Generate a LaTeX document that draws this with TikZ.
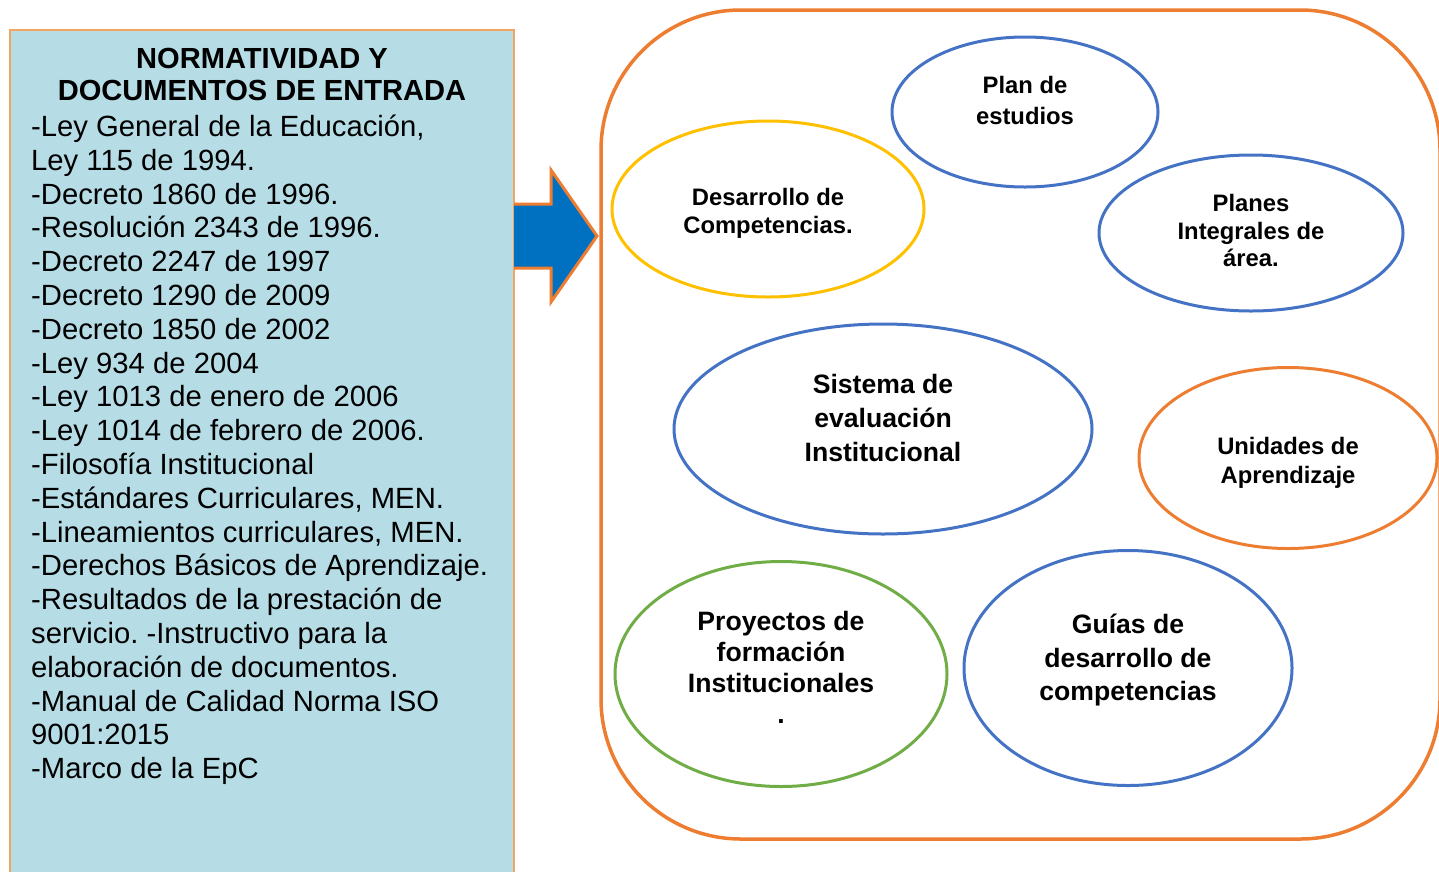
\documentclass[tikz,border=0pt]{standalone}
\usepackage{fontspec}
\setmainfont{Liberation Sans}
\frenchspacing
\usetikzlibrary{shapes.geometric}
\definecolor{orng}{HTML}{ED7D31}
\definecolor{lorng}{HTML}{F4A460}
\definecolor{blu}{HTML}{4472C4}
\definecolor{yel}{HTML}{FFC000}
\definecolor{grn}{HTML}{70AD47}
\definecolor{arrowblue}{HTML}{0070C0}
\definecolor{boxblue}{HTML}{B6DCE6}
\begin{document}
\begin{tikzpicture}[x=1pt,y=-1pt,
  ell/.style={ellipse, draw, line width=3pt, inner sep=0pt},
  small/.style={align=center, inner sep=0pt, font=\fontsize{23.8}{#1}\selectfont\bfseries\frenchspacing},
  big/.style={align=center, inner sep=0pt, font=\fontsize{26.6}{#1}\selectfont\bfseries\frenchspacing},
  body/.style={anchor=base west, inner sep=0pt, font=\fontsize{29.25}{34}\selectfont\frenchspacing},
  head/.style={anchor=base, inner sep=0pt, font=\fontsize{29.1}{32}\selectfont\bfseries}]
\useasboundingbox (0,0) rectangle (1439,871);
% left box
\path[fill=boxblue, draw=lorng, line width=1.5pt] (10,30) rectangle (514,890);
\node[head] (h1) at (262,68.4) {NORMATIVIDAD Y};
\node[head] (h2) at (262,100.4) {DOCUMENTOS DE ENTRADA};
\foreach \t [count=\i from 0] in {
 {-Ley General de la Educación,},
 {Ley 115 de 1994.},
 {-Decreto 1860 de 1996.},
 {-Resolución 2343 de 1996.},
 {-Decreto 2247 de 1997},
 {-Decreto 1290 de 2009},
 {-Decreto 1850 de 2002},
 {-Ley 934 de 2004},
 {-Ley 1013 de enero de 2006},
 {-Ley 1014 de febrero de 2006.},
 {-Filosofía Institucional},
 {-Estándares Curriculares, MEN.},
 {-Lineamientos curriculares, MEN.},
 {-Derechos Básicos de Aprendizaje.},
 {-Resultados de la prestación de},
 {servicio. -Instructivo para la},
 {elaboración de documentos.},
 {-Manual de Calidad Norma ISO},
 {9001:2015},
 {-Marco de la EpC}}
 { \node[body] (l\i) at (31,136.4+33.8*\i) {\t}; }
% arrow
\fill[arrowblue] (514,204) -- (551,204) -- (551,170) -- (597,236) -- (551,302) -- (551,268) -- (514,268) -- cycle;
\draw[orng, line width=3pt, line join=miter] (514,204) -- (551,204) -- (551,170) -- (597,236) -- (551,302) -- (551,268) -- (514,268);
% right container
\draw[orng, line width=3.5pt, rounded corners=140pt] (601,10) rectangle (1440,839);
% ellipses
\node[ell, draw=blu, minimum width=266pt, minimum height=150pt] (plan) at (1025,112) {};
\node[ell, draw=yel, minimum width=312pt, minimum height=176pt] (desa) at (768,209) {};
\node[ell, draw=blu, minimum width=304pt, minimum height=156pt] (planes) at (1251,233) {};
\node[ell, draw=blu, minimum width=418pt, minimum height=210pt] (sist) at (883,429) {};
\node[ell, draw=orng, minimum width=298pt, minimum height=181pt] (unid) at (1288,458) {};
\node[ell, draw=grn, minimum width=332pt, minimum height=225pt] (proy) at (781,674) {};
\node[ell, draw=blu, minimum width=328pt, minimum height=235pt] (guias) at (1128,668) {};
% labels
\node[small=31] (tplan) at (1025,100.5) {Plan de\\estudios};
\node[small=28] (tdesa) at (768,213) {Desarrollo de\\Competencias.};
\node[small=27.5] (tplanes) at (1251,230.5) {Planes\\Integrales de\\área.};
\node[big=34] (tsist) at (883,417.5) {Sistema de\\evaluación\\Institucional};
\node[small=29] (tunid) at (1288,462.5) {Unidades de\\Aprendizaje};
\node[big=31] (tproy) at (781,667.5) {Proyectos de\\formación\\Institucionales\\.};
\node[big=33.5] (tguias) at (1128,660) {Guías de\\desarrollo de\\competencias};
\end{tikzpicture}
\end{document}
